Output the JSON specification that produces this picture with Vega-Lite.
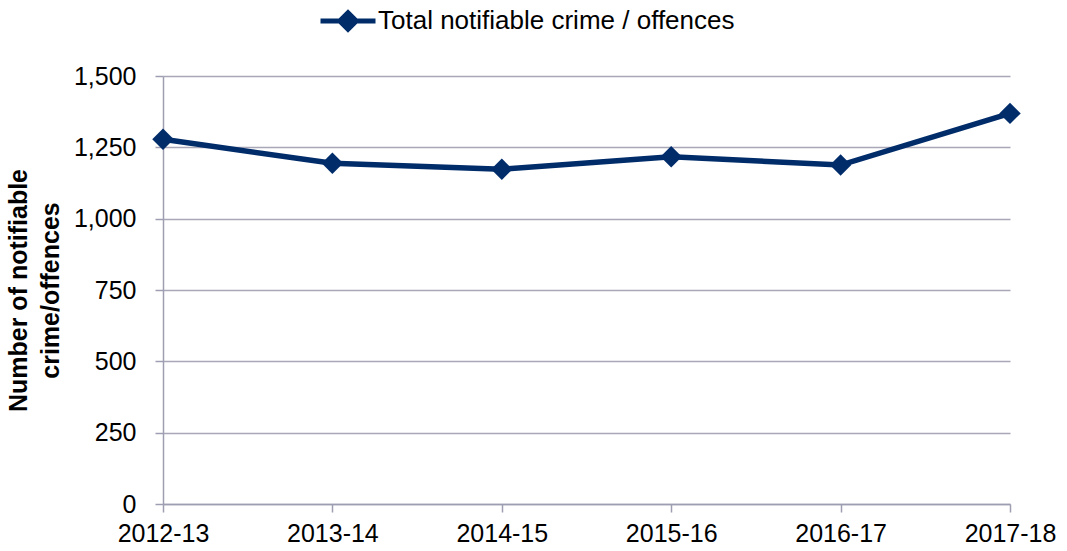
{
  "$schema": "https://vega.github.io/schema/vega-lite/v6.json",
  "autosize": {"type": "none"},
  "padding": {"left": 163, "top": 76, "right": 57, "bottom": 47},
  "width": 847,
  "height": 428,
  "background": "white",
  "data": {
    "values": [
      {"year": "2012-13", "value": 1278, "series": "Total notifiable crime / offences"},
      {"year": "2013-14", "value": 1194, "series": "Total notifiable crime / offences"},
      {"year": "2014-15", "value": 1173, "series": "Total notifiable crime / offences"},
      {"year": "2015-16", "value": 1217, "series": "Total notifiable crime / offences"},
      {"year": "2016-17", "value": 1188, "series": "Total notifiable crime / offences"},
      {"year": "2017-18", "value": 1369, "series": "Total notifiable crime / offences"}
    ]
  },
  "config": {
    "view": {"stroke": null},
    "font": "Liberation Sans"
  },
  "mark": {
    "type": "line",
    "strokeWidth": 5.5,
    "point": {"shape": "diamond", "size": 460, "filled": true, "color": "#002C6A", "opacity": 1}
  },
  "encoding": {
    "x": {
      "field": "year",
      "type": "ordinal",
      "scale": {"type": "point", "padding": 0},
      "axis": {
        "title": null,
        "labelAngle": 0,
        "labelFont": "Liberation Sans",
        "labelFontSize": 25,
        "labelColor": "#000000",
        "labelPadding": 9,
        "labelOverlap": false,
        "labelBound": false,
        "labelFlush": false,
        "domainColor": "#9E9EB2",
        "domainWidth": 1.5,
        "tickColor": "#9E9EB2",
        "tickWidth": 1.5,
        "tickSize": 8,
        "grid": false
      }
    },
    "y": {
      "field": "value",
      "type": "quantitative",
      "scale": {"domain": [0, 1500], "nice": false},
      "axis": {
        "values": [0, 250, 500, 750, 1000, 1250, 1500],
        "format": ",d",
        "title": ["Number of notifiable", "crime/offences"],
        "titleFont": "Liberation Sans",
        "titleFontSize": 25,
        "titleFontWeight": "bold",
        "titleColor": "#000000",
        "titleLineHeight": 32,
        "titleX": -132,
        "titleY": 214,
        "titleBaseline": "bottom",
        "titleAlign": "center",
        "titleAngle": -90,
        "labelFont": "Liberation Sans",
        "labelFontSize": 25,
        "labelColor": "#000000",
        "labelPadding": 19,
        "domainColor": "#9E9EB2",
        "domainWidth": 1.5,
        "tickColor": "#9E9EB2",
        "tickWidth": 1.5,
        "tickSize": 8,
        "grid": true,
        "gridColor": "#A8A8B8",
        "gridWidth": 1.5
      }
    },
    "color": {
      "field": "series",
      "type": "nominal",
      "scale": {"range": ["#002C6A"]},
      "legend": {
        "title": null,
        "orient": "none",
        "legendX": 155,
        "legendY": -85,
        "symbolType": "M-1,0H1M0,-0.3L0.3,0L0,0.3L-0.3,0Z",
        "symbolSize": 3025,
        "symbolStrokeWidth": 5,
        "symbolFillColor": "#002C6A",
        "symbolStrokeColor": "#002C6A",
        "labelFont": "Liberation Sans",
        "labelFontSize": 26,
        "labelColor": "#000000",
        "labelOffset": 0,
        "labelLimit": 600
      }
    }
  }
}
